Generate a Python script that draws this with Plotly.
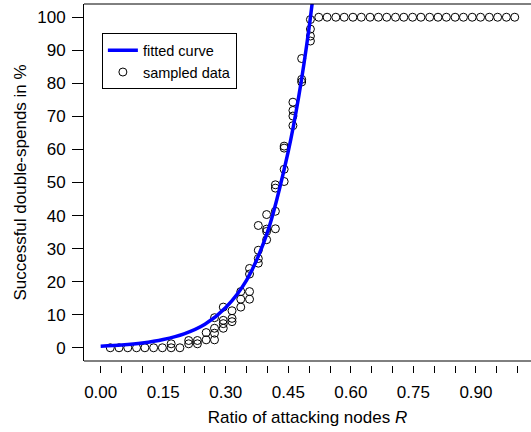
import plotly.graph_objects as go

# ---- data ----
sample_x = [0.023, 0.044, 0.065, 0.086, 0.106, 0.127, 0.148,
            0.169, 0.169, 0.190,
            0.211, 0.211, 0.232, 0.232, 0.253, 0.253,
            0.273, 0.273, 0.273, 0.273,
            0.294, 0.294, 0.294, 0.294,
            0.315, 0.315, 0.315,
            0.336, 0.336, 0.336,
            0.357, 0.357, 0.357, 0.357,
            0.378, 0.378, 0.378, 0.378,
            0.398, 0.398, 0.398, 0.398,
            0.419, 0.419, 0.419, 0.419,
            0.440, 0.440, 0.440, 0.440,
            0.461, 0.461, 0.461, 0.461,
            0.482, 0.482, 0.482,
            0.503, 0.503, 0.503, 0.503,
            0.523, 0.543, 0.564, 0.584, 0.605, 0.625, 0.646, 0.666,
            0.686, 0.707, 0.727, 0.748, 0.768, 0.789, 0.809, 0.829,
            0.850, 0.870, 0.891, 0.911, 0.932, 0.952, 0.973, 0.993]
sample_y = [0, 0, 0, 0, 0, 0, 0,
            0, 1.2, 0,
            1.2, 2.2, 1.2, 2.2, 2.4, 4.6,
            2.4, 4.4, 5.9, 9.1,
            5.9, 7.3, 8.3, 12.3,
            7.9, 8.9, 11.2,
            12.3, 14.7, 17.0,
            14.7, 17.0, 22.3, 24.0,
            25.6, 27.0, 29.5, 37.0,
            32.7, 35.2, 35.9, 40.3,
            36.0, 41.3, 48.3, 49.3,
            50.3, 54.0, 60.4, 61.0,
            67.2, 70.1, 71.8, 74.3,
            80.4, 81.2, 87.5,
            92.8, 94.3, 96.4, 99.3,
            100, 100, 100, 100, 100, 100, 100, 100,
            100, 100, 100, 100, 100, 100, 100, 100,
            100, 100, 100, 100, 100, 100, 100, 100]

curve_x = [0.0, 0.05, 0.10, 0.15, 0.20, 0.25, 0.30, 0.35, 0.40, 0.45, 0.475, 0.50, 0.52]
curve_y = [0.5, 0.85, 1.45, 2.5, 4.2, 7.1, 12.2, 20.5, 35.0, 59.5, 76.0, 97.0, 118.0]

x_tickvals = [0.00, 0.05, 0.10, 0.15, 0.20, 0.25, 0.30, 0.35, 0.40, 0.45, 0.50,
              0.55, 0.60, 0.65, 0.70, 0.75, 0.80, 0.85, 0.90, 0.95, 1.00]
x_ticktext = ["0.00", "", "", "0.15", "", "", "0.30", "", "", "0.45", "",
              "", "0.60", "", "", "0.75", "", "", "0.90", "", ""]
y_tickvals = [0, 10, 20, 30, 40, 50, 60, 70, 80, 90, 100]

FONT = "Liberation Sans, Arial, sans-serif"

fig = go.Figure()
fig.add_trace(go.Scatter(
    x=sample_x, y=sample_y, mode="markers", name="sampled data",
    legendrank=2,
    marker=dict(symbol="circle-open", size=8, color="black", line=dict(width=1, color="black")),
))
fig.add_trace(go.Scatter(
    x=curve_x, y=curve_y, mode="lines", name="fitted curve",
    legendrank=1,
    line=dict(color="#0000FF", width=3.5, shape="spline", smoothing=0.8),
))

d = 4 / 361
fig.update_layout(
    width=531, height=432,
    margin=dict(l=84, r=0, t=4, b=67, autoexpand=False),
    paper_bgcolor="white", plot_bgcolor="white",
    font=dict(family=FONT, size=17, color="black"),
    showlegend=True,
    legend=dict(
        x=0.04, y=0.919, xanchor="left", yanchor="top",
        bgcolor="white", bordercolor="black", borderwidth=1,
        font=dict(family=FONT, size=14.5, color="black"),
        tracegroupgap=0, itemwidth=30,
    ),
    xaxis=dict(
        range=[-0.04, 1.032], anchor="free", position=0, automargin=False,
        showgrid=False, zeroline=False, showline=False,
        tickmode="array", tickvals=x_tickvals, ticktext=x_ticktext,
        ticks="outside", ticklen=7, tickwidth=1, tickcolor="black",
        ticklabelstandoff=5,
        tickfont=dict(family=FONT, size=17, color="black"),
        title=dict(text="Ratio of attacking nodes <i>R</i>", font=dict(family=FONT, size=17), standoff=9),
    ),
    yaxis=dict(
        range=[-4, 104], domain=[d, 1], automargin=False,
        showgrid=False, zeroline=False, showline=True, linecolor="black", linewidth=1,
        tickmode="array", tickvals=y_tickvals,
        ticks="outside", ticklen=11, tickwidth=1, tickcolor="black",
        ticklabelstandoff=3,
        tickfont=dict(family=FONT, size=17, color="black"),
        title=dict(text="Successful double-spends in %", font=dict(family=FONT, size=17), standoff=6),
    ),
    shapes=[
        dict(type="line", xref="x domain", yref="y domain", x0=0, x1=1.0, y0=1, y1=1,
             line=dict(color="black", width=1)),
        dict(type="line", xref="x domain", yref="y domain", x0=0, x1=1.0, y0=0, y1=0,
             line=dict(color="black", width=1)),
    ],
)

fig.write_html(
    "out.html",
    config={"displayModeBar": False},
    post_script="document.body.style.margin='0';document.body.style.padding='0';document.body.style.overflow='hidden';",
)
